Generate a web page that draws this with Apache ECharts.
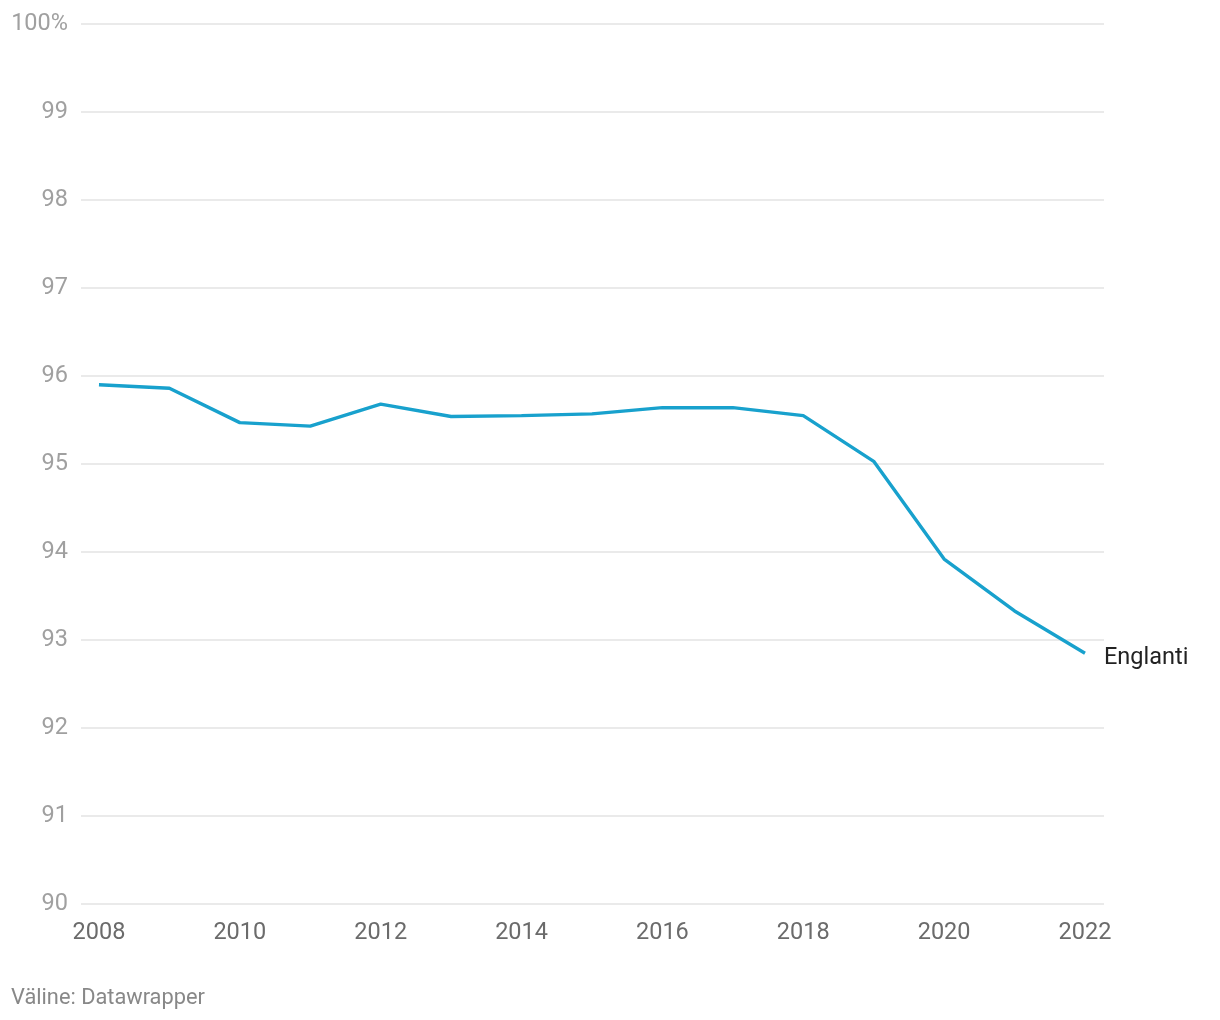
<!DOCTYPE html>
<html>
<head>
<meta charset="utf-8">
<script src="https://cdn.jsdelivr.net/npm/echarts@6/dist/echarts.min.js"></script>
<style>
html,body{margin:0;padding:0;background:#fff;}
#chart{width:1220px;height:1020px;}
</style>
</head>
<body>
<div id="chart"></div>
<script>
const years = [2008,2009,2010,2011,2012,2013,2014,2015,2016,2017,2018,2019,2020,2021,2022];
const englanti = [95.90,95.86,95.47,95.43,95.68,95.54,95.55,95.57,95.64,95.64,95.55,95.03,93.92,93.33,92.85];
const xTickLabels = [2008,2010,2012,2014,2016,2018,2020,2022];
const seriesName = 'Englanti';
const sourceText = 'Väline: Datawrapper';

const chart = echarts.init(document.getElementById('chart'), null, {renderer:'canvas'});
chart.setOption({
  animation: false,
  backgroundColor: '#fff',
  textStyle: {fontFamily: 'Roboto'},
  grid: {left: 81, top: 24, width: 1023, height: 880, containLabel: false},
  xAxis: {
    type: 'value',
    min: 2007.745,
    max: 2022.27,
    axisLine: {show: false},
    axisTick: {show: false},
    splitLine: {show: false},
    axisLabel: {
      customValues: xTickLabels,
      color: '#6b6b6b',
      fontSize: 23.5,
      fontFamily: 'Roboto',
      margin: 17,
      formatter: v => String(v)
    }
  },
  yAxis: {
    type: 'value',
    min: 90,
    max: 100,
    interval: 1,
    axisLine: {show: false},
    axisTick: {show: false},
    splitLine: {lineStyle: {color: '#e3e3e3', width: 1.5}},
    axisLabel: {
      color: '#a0a0a0',
      fontSize: 23.5,
      fontFamily: 'Roboto',
      margin: 13,
      padding: [3, 0, 0, 0],
      formatter: v => v === 100 ? '100%' : String(v)
    }
  },
  series: [{
    name: seriesName,
    type: 'line',
    data: years.map((y, i) => [y, englanti[i]]),
    symbol: 'none',
    lineStyle: {color: '#18a1cd', width: 3.4},
    endLabel: {
      show: true,
      formatter: seriesName,
      color: '#222',
      fontSize: 23.5,
      fontFamily: 'Roboto',
      distance: 19,
      offset: [0, 5]
    }
  }],
  graphic: [{
    type: 'text',
    left: 11,
    top: 988,
    style: {text: sourceText, fill: '#888', fontSize: 21.8, fontFamily: 'Roboto'}
  }]
});
</script>
</body>
</html>
